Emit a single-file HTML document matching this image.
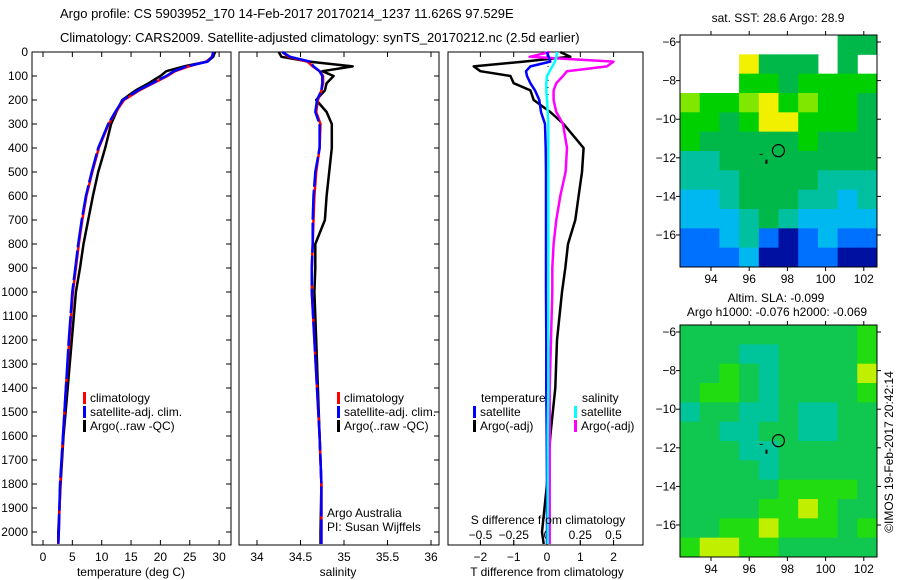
<!DOCTYPE html>
<html><head><meta charset="utf-8">
<style>
html,body{margin:0;padding:0;background:#fff;}
svg{display:block;font-family:"Liberation Sans",sans-serif;}
text{font-size:12px;fill:#000;}
</style></head>
<body>
<svg id="chart" width="900" height="580" xmlns="http://www.w3.org/2000/svg">
<text x="60" y="18" style="font-size:13px">Argo profile: CS 5903952_170 14-Feb-2017 20170214_1237 11.626S 97.529E</text>
<text x="60" y="42" style="font-size:13px">Climatology: CARS2009. Satellite-adjusted climatology: synTS_20170212.nc (2.5d earlier)</text>
</svg>
<script>
// ---- data ----
const depths = [0,20,40,60,80,100,130,160,200,250,300,400,500,600,700,800,900,1000,1200,1400,1600,1800,2000,2050];
const tempClim = [29.0,28.8,27.8,24.8,22.5,21.2,18.8,16.4,13.8,12.4,11.2,9.5,8.4,7.4,6.7,6.1,5.6,5.1,4.5,3.9,3.4,2.95,2.7,2.6];
const tempSat  = [29.0,28.8,28.0,24.5,22.3,21.0,18.6,16.2,13.6,12.3,11.1,9.4,8.3,7.3,6.6,6.0,5.5,5.0,4.4,3.9,3.4,2.9,2.7,2.6];
const tempArgo = [29.3,29.0,28.0,24.0,21.0,20.0,18.0,15.8,13.5,12.5,11.6,10.6,9.4,8.5,7.7,6.9,6.3,5.6,4.9,4.2,3.5,3.0,2.6,2.6];
const salClim = [34.29,34.36,34.58,34.64,34.72,34.76,34.76,34.74,34.70,34.68,34.73,34.72,34.68,34.66,34.65,34.64,34.63,34.63,34.66,34.69,34.72,34.74,34.74,34.74];
const salSat  = [34.29,34.38,34.61,34.65,34.72,34.75,34.75,34.74,34.69,34.67,34.72,34.72,34.67,34.65,34.64,34.64,34.63,34.63,34.66,34.69,34.72,34.74,34.74,34.74];
const salArgo = [34.25,34.28,34.60,35.10,34.75,34.88,34.80,34.78,34.68,34.80,34.86,34.86,34.83,34.80,34.78,34.67,34.67,34.66,34.68,34.70,34.72,34.74,34.73,34.73];
const dTsat  = [0,0.05,0.1,-0.5,-0.63,-0.6,-0.5,-0.36,-0.23,-0.18,-0.06,-0.04,-0.03,-0.03,-0.03,-0.03,-0.03,-0.03,-0.02,-0.02,-0.01,0,0,0];
const dTargo = [0.4,0.7,-0.7,-2.2,-2.0,-1.1,-1.0,-0.5,-0.4,0.1,0.5,1.1,1.05,0.95,0.85,0.63,0.55,0.45,0.3,0.25,0.1,0,-0.15,-0.1];
const dSsat  = [0.075,0.07,0.06,0.04,0.02,0,-0.005,-0.005,0,0.005,0.01,0.01,0.01,0.01,0.01,0.01,0.01,0.01,0.01,0.01,0.005,0.005,0.005,0.005];
const dSargo = [0.02,-0.13,0.5,0.45,0.15,0.12,0.07,0.05,0.05,0.07,0.12,0.15,0.14,0.1,0.07,0.05,0.04,0.04,0.03,0.02,0.02,0.02,0.02,0.02];
const depthTicks = [0,100,200,300,400,500,600,700,800,900,1000,1100,1200,1300,1400,1500,1600,1700,1800,1900,2000];
const tempTicks = [0,5,10,15,20,25,30];
const salTicks = [34,34.5,35,35.5,36];
const dTTicks = [-2,-1,0,1,2];
const dSTicks = [-0.5,-0.25,0,0.25,0.5];
const dSTickLabels = ["-0.5","-0.25","0","0.25","0.5"];
const lonTicks = [94,96,98,100,102];
const latTicks = [-6,-8,-10,-12,-14,-16];
// SST map categories (rows north->south, cols west->east), 0 = missing
const sstGrid = [
[0,0,0,0,0,0,0,0,5,5],
[0,0,0,8,5,5,5,0,5,0],
[0,0,0,6,6,5,6,6,6,6],
[7,6,6,7,8,6,7,6,6,5],
[6,6,5,6,8,8,6,6,6,5],
[6,5,5,5,5,5,6,5,5,5],
[4,4,5,5,5,5,5,5,5,5],
[4,4,4,5,5,5,5,4,4,4],
[3,3,4,5,5,5,4,4,3,4],
[3,3,3,4,5,4,3,3,3,3],
[2,2,3,4,2,1,2,3,2,2],
[2,2,2,3,1,1,2,2,1,1]];
const slaGrid = [
[2,2,2,2,2,2,2,2,2,3],
[2,2,2,1,1,2,2,2,2,3],
[2,2,3,2,1,2,2,2,2,4],
[2,3,3,2,1,2,2,2,2,3],
[1,2,2,1,1,2,1,1,2,2],
[2,2,1,1,2,2,1,1,2,2],
[2,2,2,1,1,2,2,2,2,2],
[2,2,2,2,1,2,2,2,2,2],
[2,2,2,2,2,3,3,3,3,2],
[2,2,2,2,3,3,4,3,2,2],
[2,2,3,3,4,3,3,3,2,3],
[3,4,4,3,3,2,2,2,2,2]];
const argoLon = 97.53, argoLat = -11.63;

// ---- helpers ----
const svg = document.getElementById('chart');
const NS = 'http://www.w3.org/2000/svg';
function mk(tag, attrs, parent){const e=document.createElementNS(NS,tag);for(const k in attrs)e.setAttribute(k,attrs[k]);(parent||svg).appendChild(e);return e;}
function txt(x,y,s,anchor,parent){const t=mk('text',{x:x,y:y,'text-anchor':anchor||'start'},parent);t.textContent=s;return t;}

const TOP=52, BOT=545;
const yD = d => 52 + d*0.24;
const xT = t => 43 + t*5.87;
const xS = s => 257 + (s-34)*87;
const xDT = v => 547 + v*33.3;
const xDS = v => 547 + v*133;

function line(xs, fx, color, w, name, dash){
  const pts = depths.map((d,i)=>fx(xs[i]).toFixed(1)+','+yD(d).toFixed(1)).join(' ');
  const p = mk('polyline',{points:pts,fill:'none',stroke:color,'stroke-width':w,'stroke-linejoin':'round'});
  if(dash) p.setAttribute('stroke-dasharray',dash);
  
  
}
function panel(x0,x1,name){
  const r = mk('rect',{x:x0,y:TOP,width:x1-x0,height:BOT-TOP,fill:'none',stroke:'#000','stroke-width':1});
  
  
}
function yTicks(x, dir){
  depthTicks.forEach(d=>{mk('line',{x1:x,x2:x+dir*5,y1:yD(d),y2:yD(d),stroke:'#000'});});
}

// ---- panel 1 : temperature ----
panel(32,231,'temperature-panel');
depthTicks.forEach(d=>{
  const t = txt(28, yD(d)+4, String(d), 'end');
  
  
});
yTicks(32,1); yTicks(231,-1);
tempTicks.forEach(v=>{
  mk('line',{x1:xT(v),x2:xT(v),y1:BOT,y2:BOT-5,stroke:'#000'});
  mk('line',{x1:xT(v),x2:xT(v),y1:TOP,y2:TOP+5,stroke:'#000'});
  const t=txt(xT(v),561,String(v),'middle');
  
  
});
txt(131,576,'temperature (deg C)','middle');
line(tempArgo,xT,'#000',2.5,'temp-argo-line');
line(tempClim,xT,'#f00',2.5,'temp-climatology-line');
line(tempSat,xT,'#00f',2.5,'temp-satellite-line','30 3');

// ---- panel 2 : salinity ----
panel(239,439,'salinity-panel');
yTicks(439,-1);
salTicks.forEach(v=>{
  mk('line',{x1:xS(v),x2:xS(v),y1:BOT,y2:BOT-5,stroke:'#000'});
  mk('line',{x1:xS(v),x2:xS(v),y1:TOP,y2:TOP+5,stroke:'#000'});
  const t=txt(xS(v),561,String(v),'middle');
  
  
});
txt(338,576,'salinity','middle');
line(salArgo,xS,'#000',2.5,'sal-argo-line');
line(salClim,xS,'#f00',2.5,'sal-climatology-line');
line(salSat,xS,'#00f',2.5,'sal-satellite-line','30 3');
txt(327,517,'Argo Australia');
txt(327,531,'PI: Susan Wijffels');

// legends panels 1 & 2
function legend(x,y,color,label,name){
  mk('rect',{x:x,y:y-10,width:3,height:12,fill:color});
  const t=txt(x+7,y,label);  
}
legend(83,402,'#f00','climatology','legend-climatology');
legend(83,416,'#00f','satellite-adj. clim.','legend-satellite-adj');
legend(83,430,'#000','Argo(..raw -QC)','legend-argo');
legend(337,402,'#f00','climatology','legend-climatology-2');
legend(337,416,'#00f','satellite-adj. clim.','legend-satellite-adj-2');
legend(337,430,'#000','Argo(..raw -QC)','legend-argo-2');

// ---- panel 3 : differences ----
panel(448,643,'difference-panel');
dTTicks.forEach(v=>{
  mk('line',{x1:xDT(v),x2:xDT(v),y1:BOT,y2:BOT-5,stroke:'#000'});
  mk('line',{x1:xDT(v),x2:xDT(v),y1:TOP,y2:TOP+5,stroke:'#000'});
  const t=txt(xDT(v),561,String(v).replace('-','\u2212'),'middle');
  
  
});
dSTicks.forEach((v,i)=>{
  mk('line',{x1:xDS(v),x2:xDS(v),y1:BOT,y2:BOT-5,stroke:'#000'});
  const t=txt(xDS(v),539,dSTickLabels[i].replace('-','\u2212'),'middle');
  
  
});
mk('line',{x1:548,x2:548,y1:TOP,y2:BOT,stroke:'#000','stroke-dasharray':'1 6'});
line(dTargo,xDT,'#000',2.5,'tdiff-argo-line');
line(dSargo,xDS,'#f0f',2.5,'sdiff-argo-line');
line(dTsat,xDT,'#00f',2.5,'tdiff-satellite-line');
line(dSsat,xDS,'#0ff',2.5,'sdiff-satellite-line');
txt(548,524,'S difference from climatology','middle');
txt(547,576,'T difference from climatology','middle');
txt(481,402,'temperature');
legend(473,416,'#00f','satellite','legend-t-satellite');
legend(473,430,'#000','Argo(-adj)','legend-t-argo');
txt(582,402,'salinity');
legend(574,416,'#0ff','satellite','legend-s-satellite');
legend(574,430,'#f0f','Argo(-adj)','legend-s-argo');

// ---- maps ----
const sstColors = ['#ffffff','#0010a0','#0070ff','#00b8f0','#00c0a0','#00b84a','#00d000','#80e800','#f0f000'];
const slaColors = ['#ffffff','#00c49a','#10c850','#20dc10','#c0f000'];
function map(top, grid, colors, name, bottomLabelY){
  const L=680,R=877,H=232,T=top,B=top+H;
  const lonX = lo => 711 + (lo-94)*19.1;
  const latY = la => (T+7) + (-6-la)*19.3;
  const g = mk('g',{});
  
  
  const rows=grid.length, cols=grid[0].length;
  const cw=(R-L)/cols, ch=H/rows;
  grid.forEach((row,r)=>row.forEach((v,c)=>{
    if(v===0) return;
    const cell = mk('rect',{x:(L+c*cw).toFixed(2),y:(T+r*ch).toFixed(2),width:(cw+0.5).toFixed(2),height:(ch+0.5).toFixed(2),fill:colors[v]},g);
    
    
  }));
  mk('rect',{x:L,y:T,width:R-L,height:H,fill:'none',stroke:'#000'},g);
  lonTicks.forEach(lo=>{
    mk('line',{x1:lonX(lo),x2:lonX(lo),y1:T,y2:T-4,stroke:'#000'},g);
    mk('line',{x1:lonX(lo),x2:lonX(lo),y1:B,y2:B+4,stroke:'#000'},g);
    const t=txt(lonX(lo),bottomLabelY,String(lo),'middle',g);
    
    
  });
  latTicks.forEach(la=>{
    mk('line',{x1:L,x2:L-4,y1:latY(la),y2:latY(la),stroke:'#000'},g);
    mk('line',{x1:R,x2:R+4,y1:latY(la),y2:latY(la),stroke:'#000'},g);
    const t=txt(676,latY(la)+4,String(la).replace('-','\u2212'),'end',g);
    
    
  });
  const c = mk('circle',{cx:lonX(argoLon),cy:latY(argoLat),r:6,fill:'none',stroke:'#000','stroke-width':1.2},g);
  
  
  mk('rect',{x:lonX(96.85),y:latY(-12.1),width:2,height:4,fill:'#000'},g);
  mk('rect',{x:lonX(96.55),y:latY(-11.8),width:3,height:1,fill:'#000'},g);
}
map(35,sstGrid,sstColors,'sst-map',283);
map(325,slaGrid,slaColors,'sla-map',573);
txt(778,22,'sat. SST: 28.6 Argo: 28.9','middle');
txt(776,302,'Altim. SLA: -0.099','middle');
txt(777,316,'Argo h1000: -0.076 h2000: -0.069','middle');
const cr = txt(0,0,'\u00A9IMOS 19-Feb-2017 20:42:14','middle');
cr.setAttribute('transform','translate(893,452) rotate(-90)');


</script>
</body></html>
